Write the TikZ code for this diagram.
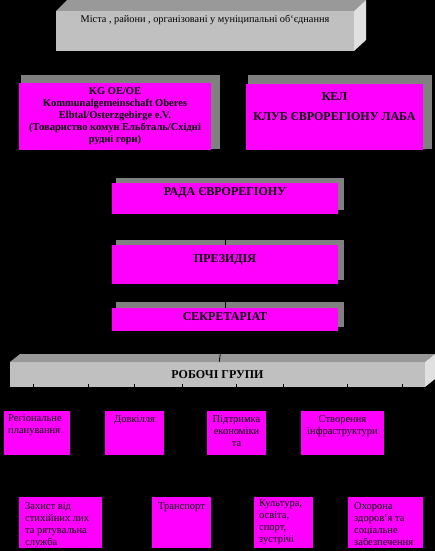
\documentclass[tikz,border=0pt]{standalone}
\usepackage{fontspec}
\setmainfont{Liberation Serif}
\usetikzlibrary{positioning}

\definecolor{euroPink}{HTML}{FF00FF}
\definecolor{shadowGray}{HTML}{808080}
\definecolor{frontGray}{HTML}{C0C0C0}
\definecolor{topGray}{HTML}{999999}
\definecolor{sideGray}{HTML}{E0E0E0}

\pgfdeclarelayer{back}
\pgfsetlayers{back,main}

\tikzset{
  pinkbox/.style 2 args={fill=euroPink, minimum width=#1, minimum height=#2, inner sep=0pt, outer sep=0pt},
  faceblock/.style 2 args={minimum width=#1, minimum height=#2, inner sep=0pt, outer sep=0pt},
  headtxt/.style={font=\fontsize{12}{14}\selectfont\bfseries, inner sep=0pt},
  kgtxt/.style={font=\fontsize{10.5}{12}\selectfont\bfseries, align=center, inner sep=0pt},
  grptxt/.style={font=\fontsize{10.5}{12}\selectfont, align=left, inner sep=0pt},
  link/.style={black, line width=0.8pt},
}

\begin{document}
\begin{tikzpicture}[x=1pt,y=-1pt]
\useasboundingbox (0,0) rectangle (435,551);

% top block
\node[faceblock={298}{40}] (cities) at (205,31) {};
\node[grptxt, font=\fontsize{10.3}{12}\selectfont] (citiestxt) at (205,20) {Міста , райони , організовані у муніципальні об‘єднання};

% founders
\node[pinkbox={192}{67}] (kg) at (115,116.5) {};
\node[kgtxt] (kgtxt) at (kg.center) {KG OE/OE\\Kommunalgemeinschaft Oberes\\Elbtal/Osterzgebirge e.V.\\(Товариство комун Ельбталь/Східні\\рудні гори)};
\node[pinkbox={177}{66}] (kel) at (334.5,117) {};
\node[headtxt, align=center] (keltxt) at (334.5,107) {КЕЛ\\[6pt]КЛУБ ЄВРОРЕГІОНУ ЛАБА};

% bodies
\node[pinkbox={226}{31}] (rada) at (225,198.5) {};
\node[headtxt] (radatxt) at (225,193) {РАДА ЄВРОРЕГІОНУ};
\node[pinkbox={226}{39}] (prez) at (225,264.5) {};
\node[headtxt] (preztxt) at (225,260) {ПРЕЗИДІЯ};
\node[pinkbox={226}{23}] (secr) at (225,319.5) {};
\node[headtxt] (secrtxt) at (225,317) {СЕКРЕТАРІАТ};

% working groups
\node[faceblock={415}{25}, headtxt] (groups) at (217.5,374.5) {РОБОЧІ ГРУПИ};

\node[pinkbox={66}{44}] (plan) at (37,433) {};
\node[grptxt, below right=3pt and 4pt of plan.north west] (plantxt) {Регіональне\\планування};
\node[pinkbox={59}{44}] (env) at (134.5,433) {};
\node[grptxt, below=4.5pt of env.north] (envtxt) {Довкілля};
\node[pinkbox={59}{44}] (econ) at (236.5,433) {};
\node[grptxt, align=center, below=4.5pt of econ.north] (econtxt) {Підтримка\\економіки\\та};
\node[pinkbox={83}{44}] (infra) at (342.5,433) {};
\node[grptxt, align=center, below=4.5pt of infra.north] (infratxt) {Створення\\інфраструктури};

\node[pinkbox={83}{51}] (rescue) at (60.5,522.5) {};
\node[grptxt, below right=5pt and 6pt of rescue.north west] (rescuetxt) {Захист від\\стихійних лих\\та рятувальна\\служба};
\node[pinkbox={59}{51}] (transp) at (181.5,522.5) {};
\node[grptxt, below=5pt of transp.north] (transptxt) {Транспорт};
\node[pinkbox={59}{51}] (cult) at (283.5,522.5) {};
\node[grptxt, below right=2.5pt and 5pt of cult.north west] (culttxt) {Культура,\\освіта,\\спорт,\\зустрічі};
\node[pinkbox={75}{51}] (health) at (385.5,522.5) {};
\node[grptxt, below right=5pt and 6pt of health.north west] (healthtxt) {Охорона\\здоров’я та\\соціальне\\забезпечення};

\begin{pgfonlayer}{back}
\fill[black] (0,0) rectangle (435,551);
% shadows
\fill[shadowGray] (21,75) rectangle (220,149);
\fill[shadowGray] (248,75) rectangle (432,149);
\fill[shadowGray] (116,178) rectangle (344,210);
\fill[shadowGray] (116,240) rectangle (344,280);
\fill[shadowGray] (116,302) rectangle (344,327);
% 3d faces
\fill[frontGray] (cities.south west) rectangle (cities.north east);
\fill[topGray] (cities.north west) -- ++(11,-11) -- ([shift={(12,-11)}]cities.north east) -- (cities.north east) -- cycle;
\fill[sideGray] (cities.north east) -- ++(12,-11) -- ([shift={(12,-11)}]cities.south east) -- (cities.south east) -- cycle;
\fill[frontGray] (groups.south west) rectangle (groups.north east);
\fill[topGray] (groups.north west) -- ++(10,-8) -- ([shift={(10,-8)}]groups.north east) -- (groups.north east) -- cycle;
\fill[sideGray] (groups.north east) -- ++(10,-8) -- ([shift={(10,-8)}]groups.south east) -- (groups.south east) -- cycle;
% connectors
\draw[link] (rada) -- (prez);
\draw[link] (prez) -- (secr);
\draw[link] (secr) -- (groups);
\coordinate (t1) at (33,384);
\coordinate (t2) at (88,384);
\coordinate (t3) at (134,384);
\coordinate (t4) at (182,384);
\coordinate (t5) at (236,384);
\coordinate (t6) at (283,384);
\coordinate (t7) at (347,384);
\coordinate (t8) at (402,384);
\draw[link] (t1) -- (t1 |- plan.north);
\draw[link] (t2) -- (t2 |- rescue.north);
\draw[link] (t3) -- (t3 |- env.north);
\draw[link] (t4) -- (t4 |- transp.north);
\draw[link] (t5) -- (t5 |- econ.north);
\draw[link] (t6) -- (t6 |- cult.north);
\draw[link] (t7) -- (t7 |- infra.north);
\draw[link] (t8) -- (t8 |- health.north);
\end{pgfonlayer}
\end{tikzpicture}
\end{document}
